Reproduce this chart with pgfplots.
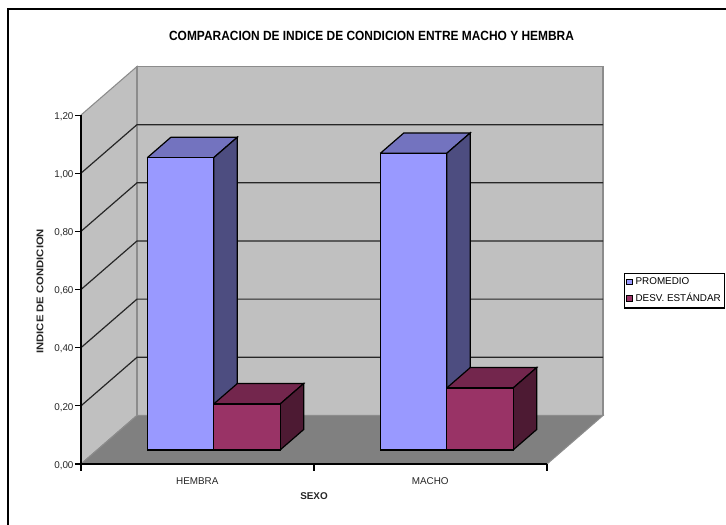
\documentclass[border=0pt]{standalone}
\usepackage{fontspec}
\setmainfont{Liberation Sans}
\newfontfamily\titlefont[FakeStretch=0.895]{Liberation Sans}
\newfontfamily\widefont[FakeStretch=1.16]{Liberation Sans}
\usepackage{pgfplots}
\pgfplotsset{compat=1.18}

\definecolor{wall}{HTML}{C0C0C0}
\definecolor{floorgray}{HTML}{808080}
\definecolor{edgegray}{HTML}{8C8C8C}
\definecolor{promfront}{HTML}{9999FF}
\definecolor{promtop}{HTML}{7373BF}
\definecolor{promside}{HTML}{4D4D80}
\definecolor{desvfront}{HTML}{993366}
\definecolor{desvtop}{HTML}{73264D}
\definecolor{desvside}{HTML}{4D1A33}

% Oblique box for one bar: left x, right x, value, front / top / side colours
\newcommand{\obliquebar}[6]{%
  \addplot3[fill=#5,draw=black,line width=0.9pt,forget plot] coordinates
    {(#1,0.29,#3) (#1,0.71,#3) (#2,0.71,#3) (#2,0.29,#3) (#1,0.29,#3)};
  \addplot3[fill=#6,draw=black,line width=0.9pt,forget plot] coordinates
    {(#2,0.29,0) (#2,0.71,0) (#2,0.71,#3) (#2,0.29,#3) (#2,0.29,0)};
  \addplot3[fill=#4,draw=black,line width=0.9pt,forget plot] coordinates
    {(#1,0.29,0) (#2,0.29,0) (#2,0.29,#3) (#1,0.29,#3) (#1,0.29,0)};
}

\begin{document}
\begin{tikzpicture}
\useasboundingbox (0,0) rectangle (544.5pt,393.75pt);
\fill[white] (0,0) rectangle (544.5pt,393.75pt);
% outer frame of the chart area
\draw[black,line width=2.2pt] (6pt,0pt) -- (6pt,387pt) -- (544.5pt,387pt);

\begin{axis}[
  at={(60.75pt,45.75pt)},anchor=origin,
  x={(174.75pt,0pt)},y={(42pt,36.4pt)},z={(0pt,218.1pt)},
  xmin=0,xmax=2,ymin=0,ymax=1,zmin=0,zmax=1.2,
  clip=false,axis on top,
  axis x line*=bottom,axis z line*=left,axis y line=none,
  axis line style={black,line width=1.2pt,-},
  xtick={0.5,1.5},xticklabels={HEMBRA,MACHO},
  ytick=\empty,
  ztick={0,0.2,0.4,0.6,0.8,1,1.2},
  tick align=outside,
  major tick length=4.5pt,
  x tick style={draw=none},
  z tick style={draw=none},
  tick label style={font=\fontsize{7.4pt}{9pt}\selectfont,text=black!85},
  x tick label style={yshift=-3.75pt,xshift=6pt},
  z tick label style={yshift=5.9pt,xshift=1.3pt,/pgf/number format/.cd,fixed,fixed zerofill,precision=2,use comma,assume math mode=true},
  legend style={at={(axis cs:2.33,0,0.657)},anchor=north west,draw=black,line width=0.9pt,
    font=\fontsize{7.4pt}{9pt}\selectfont,inner sep=1pt,row sep=1.2pt,cells={anchor=west},
    legend cell align=left},
  legend image code/.code={\draw[#1,line width=0.75pt,draw=black] (0pt,-2.2pt) rectangle (4.6pt,2.2pt);},
]
% side wall, back wall and floor
\addplot3[fill=wall,draw=edgegray,line width=0.8pt,forget plot] coordinates {(0,0,0) (0,1,0) (0,1,1.2) (0,0,1.2) (0,0,0)};
\addplot3[fill=wall,draw=edgegray,line width=0.8pt,forget plot] coordinates {(0,1,0) (2,1,0) (2,1,1.2) (0,1,1.2) (0,1,0)};
\addplot3[fill=floorgray,draw=edgegray,line width=0.8pt,forget plot] coordinates {(0,0,0) (2,0,0) (2,1,0) (0,1,0) (0,0,0)};
% gridlines across the side and back walls
\addplot3[black!85,line width=0.9pt,forget plot] coordinates {(0,0,0.2) (0,1,0.2) (2,1,0.2)};
\addplot3[black!85,line width=0.9pt,forget plot] coordinates {(0,0,0.4) (0,1,0.4) (2,1,0.4)};
\addplot3[black!85,line width=0.9pt,forget plot] coordinates {(0,0,0.6) (0,1,0.6) (2,1,0.6)};
\addplot3[black!85,line width=0.9pt,forget plot] coordinates {(0,0,0.8) (0,1,0.8) (2,1,0.8)};
\addplot3[black!85,line width=0.9pt,forget plot] coordinates {(0,0,1.0) (0,1,1.0) (2,1,1.0)};
% value ticks left of the front corner
\addplot3[black,line width=0.8pt,forget plot] coordinates {(-0.026,0,0) (0,0,0)};
\addplot3[black,line width=0.8pt,forget plot] coordinates {(-0.026,0,0.2) (0,0,0.2)};
\addplot3[black,line width=0.8pt,forget plot] coordinates {(-0.026,0,0.4) (0,0,0.4)};
\addplot3[black,line width=0.8pt,forget plot] coordinates {(-0.026,0,0.6) (0,0,0.6)};
\addplot3[black,line width=0.8pt,forget plot] coordinates {(-0.026,0,0.8) (0,0,0.8)};
\addplot3[black,line width=0.8pt,forget plot] coordinates {(-0.026,0,1.0) (0,0,1.0)};
\addplot3[black,line width=0.8pt,forget plot] coordinates {(-0.026,0,1.2) (0,0,1.2)};
% category separators below the front edge
\addplot3[black,line width=0.8pt,forget plot] coordinates {(0,0,0) (0,0,-0.024)};
\addplot3[black,line width=0.8pt,forget plot] coordinates {(1,0,0) (1,0,-0.024)};
\addplot3[black,line width=0.8pt,forget plot] coordinates {(2,0,0) (2,0,-0.024)};

\addlegendimage{fill=promfront}
\addlegendentry{PROMEDIO}
\addlegendimage{fill=desvfront}
\addlegendentry{DESV. ESTÁNDAR}

\obliquebar{0.215}{0.5}{1.005}{promfront}{promtop}{promside}
\obliquebar{0.5}{0.785}{0.158}{desvfront}{desvtop}{desvside}
\obliquebar{1.215}{1.5}{1.02}{promfront}{promtop}{promside}
\obliquebar{1.5}{1.785}{0.213}{desvfront}{desvtop}{desvside}

\node[font=\titlefont\bfseries\fontsize{10pt}{12pt}\selectfont,anchor=center] at (axis cs:1.247,0,1.473) {COMPARACION DE INDICE DE CONDICION ENTRE MACHO Y HEMBRA};
\node[font=\bfseries\fontsize{7.4pt}{9pt}\selectfont,text=black!85,anchor=center] at (axis cs:1,0,-0.11) {SEXO};
\node[font=\widefont\bfseries\fontsize{7.3pt}{9pt}\selectfont,text=black!85,rotate=90,anchor=center] at (axis cs:-0.176,0,0.594) {INDICE DE CONDICION};
\end{axis}
\end{tikzpicture}
\end{document}
